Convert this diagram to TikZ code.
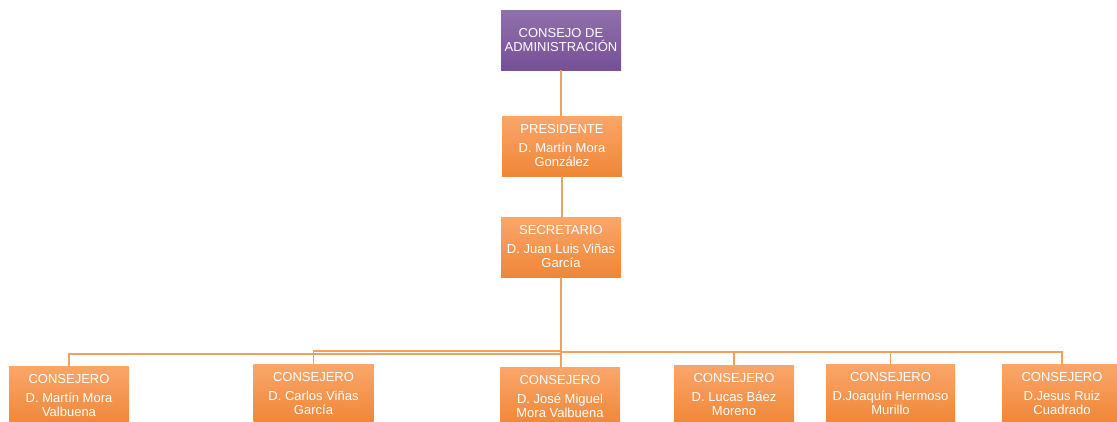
\documentclass[tikz,border=0pt]{standalone}
\usepackage{fontspec}
\setmainfont{Liberation Sans}
\usepackage{tikz}
\definecolor{org_top}{RGB}{250,166,106}
\definecolor{org_bot}{RGB}{239,134,54}
\definecolor{pur_top}{RGB}{145,112,172}
\definecolor{pur_bot}{RGB}{118,80,150}
\definecolor{org_line}{RGB}{243,160,95}
\tikzset{
	boxnode/.style = {
		rectangle,
		align=center,
		inner sep=0pt,
		text=white,
		font=\fontsize{13}{14.5}\selectfont,
		minimum width=120pt,
		minimum height=60pt
	},
	node_junta/.style = {
		boxnode,
		top color=pur_top,
		bottom color=pur_bot
	},
	node_cargo/.style = {
		boxnode,
		top color=org_top,
		bottom color=org_bot
	},
	node_cargo_wide/.style = {
		node_cargo,
		minimum width=129pt
	},
	link/.style = {
		draw=org_line,
		line width=1.5pt
	},
}
\begin{document}
\begin{tikzpicture}[x=1pt,y=-1pt]
\useasboundingbox (0,0) rectangle (1117,421);
\clip (0,0) rectangle (1117,421);
\node [node_junta] (junta) at (561,40) {CONSEJO DE\\ADMINISTRACIÓN};
\node [node_cargo] (pres) at (562,146) {PRESIDENTE\\[4pt]D. Martín Mora\\González};
\node [node_cargo] (secr) at (561,247) {SECRETARIO\\[4pt]D. Juan Luis Viñas\\García};
\node [node_cargo] (cons1) at (69,396) {CONSEJERO\\[4pt]D. Martín Mora\\Valbuena};
\node [node_cargo] (cons2) at (313.5,394) {CONSEJERO\\[4pt]D. Carlos Viñas\\García};
\node [node_cargo] (cons3) at (560,397) {CONSEJERO\\[4pt]D. José Miguel\\Mora Valbuena};
\node [node_cargo] (cons4) at (734,395) {CONSEJERO\\[4pt]D. Lucas Báez\\Moreno};
\node [node_cargo_wide] (cons5) at (890.5,394) {CONSEJERO\\[4pt]D.Joaquín Hermoso\\Murillo};
\node [node_cargo] (cons6) at (1062,394) {CONSEJERO\\[4pt]D.Jesus Ruiz\\Cuadrado};
\draw [link] (junta.south) -- (junta.south |- pres.north);
\draw [link] (pres.south) -- (pres.south |- secr.north);
\draw [link] (secr.south) |- ([yshift=12pt]cons1.north) -- (cons1.north);
\draw [link] (secr.south) |- ([yshift=13pt]cons2.north) -- (cons2.north);
\draw [link] (secr.south) -- (secr.south |- cons3.north);
\draw [link] (secr.south) |- ([yshift=13pt]cons4.north) -- (cons4.north);
\draw [link] (secr.south) |- ([yshift=12pt]cons5.north) -- (cons5.north);
\draw [link] (secr.south) |- ([yshift=12pt]cons6.north) -- (cons6.north);
\end{tikzpicture}
\end{document}
